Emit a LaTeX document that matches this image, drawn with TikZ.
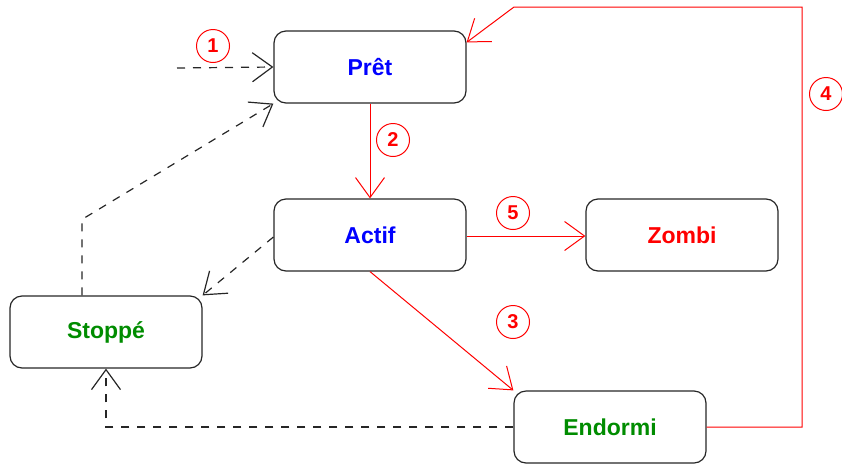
\documentclass[tikz,border=0pt]{standalone}
\usepackage{fontspec}
\setmainfont{Liberation Sans}
\usetikzlibrary{arrows.meta,calc}
\definecolor{stblue}{RGB}{0,0,255}
\definecolor{stgreen}{RGB}{0,140,0}
\definecolor{stred}{RGB}{255,0,0}
\begin{document}
\begin{tikzpicture}[x=1pt,y=-1pt,
  state/.style={draw=black!85,line width=1.2pt,rounded corners=12pt,
    minimum width=192pt,minimum height=72pt,inner sep=0pt,
    font=\fontsize{23}{27}\selectfont\bfseries},
  num/.style={circle,draw=stred,line width=1pt,minimum size=33pt,inner sep=0pt,
    text=stred,font=\fontsize{20}{24}\selectfont\bfseries},
  barbtip/.style={-{Straight Barb[length=20pt,width=29pt]}},
  dasharrow/.style={barbtip,draw=black!85,line width=1.2pt,dash pattern=on 8pt off 8pt},
  redarrow/.style={barbtip,draw=stred,line width=1pt}]
\useasboundingbox (0,0) rectangle (842,464);

% states
\node[state,text=stblue]  (pret)    at (370,67)  {Prêt};
\node[state,text=stblue]  (actif)   at (370,235) {Actif};
\node[state,text=stred]   (zombi)   at (682,235) {Zombi};
\node[state,text=stgreen] (stoppe)  at (106,332) {Stoppé};
\node[state,text=stgreen] (endormi) at (610,427) {Endormi};

% dashed transitions
\coordinate (entry) at (177,68);
\draw[dasharrow] (entry) -- (pret.west);
\draw[dasharrow] ([xshift=-24pt]stoppe.north) -- ++(0,-76) -- (pret.south west);
\draw[dasharrow] ([yshift=-2pt]actif.west) -- (stoppe.north east);
\draw[dasharrow] (endormi.west) -| (stoppe.south);

% red transitions
\draw[redarrow] (pret.south) -- (actif.north);
\draw[redarrow] ([yshift=-1pt]actif.east) -- ([yshift=-1pt]zombi.west);
\draw[redarrow] (actif.south) -- (endormi.north west);
\draw[redarrow] (endormi.east) -- (802,427) -- (802,7) -- (514,7)
  -- ($(pret.north east)+(0,12)$);

% numbered labels
\node[num] (n1) at (213,46)  {1};
\node[num] (n2) at (393,140) {2};
\node[num] (n3) at (513,322) {3};
\node[num] (n4) at (826,94)  {4};
\node[num] (n5) at (513,213) {5};
\end{tikzpicture}
\end{document}
